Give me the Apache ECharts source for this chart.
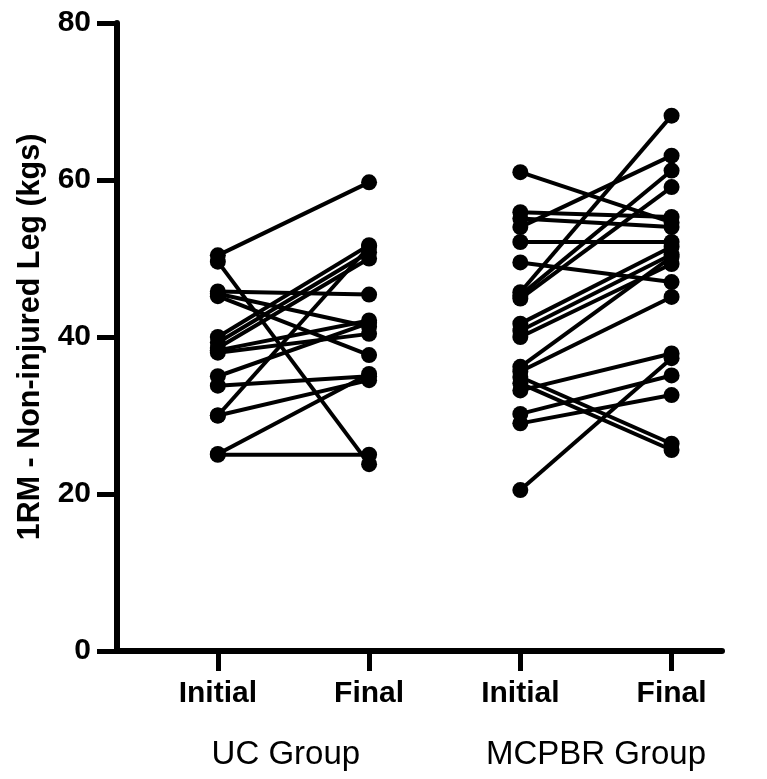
<!DOCTYPE html>
<html>
<head>
<meta charset="utf-8">
<script src="https://cdn.jsdelivr.net/npm/echarts@6/dist/echarts.min.js"></script>
<style>
  html, body { margin: 0; padding: 0; background: #fff; }
  #chart { width: 767px; height: 779px; }
</style>
</head>
<body>
<div id="chart"></div>
<script>
// 1RM of the non-injured leg, per participant, before and after the programme
const timeLabels = ['Initial', 'Final', 'Initial', 'Final'];
const groupLabels = ['UC Group', 'MCPBR Group'];
const yTicks = [0, 20, 40, 60, 80];

const ucInitial = [50.4, 49.6, 45.8, 45.5, 45.2, 40.0, 39.3, 38.6, 38.3, 38.0, 35.0, 33.8, 30.0, 30.0, 25.1, 25.0];
const ucFinal   = [59.7, 23.8, 45.4, 41.3, 37.7, 51.7, 50.8, 50.0, 42.1, 40.4, 41.8, 35.0, 51.5, 34.5, 35.3, 25.0];

const mcInitial = [61.0, 55.9, 55.1, 54.0, 52.1, 49.5, 45.7, 45.3, 44.9, 41.7, 40.8, 40.0, 36.2, 35.6, 34.9, 34.1, 33.2, 30.2, 29.0, 20.5];
const mcFinal   = [54.6, 55.3, 54.0, 63.1, 52.1, 47.0, 68.2, 61.2, 59.1, 51.5, 50.5, 49.3, 50.2, 45.1, 26.4, 25.6, 37.9, 35.1, 32.6, 37.3];

const FONT = '"Liberation Sans", Arial, Helvetica, sans-serif';

function pairSeries(initial, final, xStart) {
  return initial.map((v, i) => ({
    type: 'line',
    data: [[xStart, v], [xStart + 1, final[i]]],
    symbol: 'circle',
    symbolSize: 16,
    lineStyle: { color: '#000', width: 4 },
    itemStyle: { color: '#000' },
    silent: true,
    animation: false
  }));
}

const chart = echarts.init(document.getElementById('chart'), null, { renderer: 'canvas' });

chart.setOption({
  backgroundColor: '#fff',
  grid: { left: 117, right: 45, top: 23, bottom: 128, containLabel: false },
  xAxis: [
    {
      type: 'value',
      min: 1 / 3,
      max: 13 / 3,
      position: 'bottom',
      axisLine: { show: true, lineStyle: { color: '#000', width: 6 } },
      axisTick: { show: true, customValues: [1, 2, 3, 4], length: 20, lineStyle: { color: '#000', width: 5 } },
      axisLabel: {
        customValues: [1, 2, 3, 4],
        formatter: v => timeLabels[Math.round(v) - 1],
        margin: 28,
        color: '#000',
        fontFamily: FONT,
        fontWeight: 'bold',
        fontSize: 30
      },
      splitLine: { show: false }
    },
    {
      type: 'value',
      min: 1 / 3,
      max: 13 / 3,
      position: 'bottom',
      axisLine: { show: false },
      axisTick: { show: false },
      axisLabel: {
        customValues: [1.45, 3.5],
        formatter: v => (v < 2.5 ? groupLabels[0] : groupLabels[1]),
        margin: 87,
        color: '#000',
        fontFamily: FONT,
        fontWeight: 'normal',
        fontSize: 33
      },
      splitLine: { show: false }
    }
  ],
  yAxis: {
    type: 'value',
    min: yTicks[0],
    max: yTicks[yTicks.length - 1],
    interval: 20,
    name: '1RM - Non-injured Leg (kgs)',
    nameLocation: 'middle',
    nameGap: 71,
    nameRotate: 90,
    nameTextStyle: { color: '#000', fontFamily: FONT, fontWeight: 'bold', fontSize: 30.5 },
    axisLine: { show: true, lineStyle: { color: '#000', width: 6 } },
    axisTick: { show: true, length: 20, lineStyle: { color: '#000', width: 5 } },
    axisLabel: { margin: 26, color: '#000', fontFamily: FONT, fontWeight: 'bold', fontSize: 30 },
    splitLine: { show: false }
  },
  series: [
    ...pairSeries(ucInitial, ucFinal, 1),
    ...pairSeries(mcInitial, mcFinal, 3)
  ]
});
</script>
</body>
</html>
